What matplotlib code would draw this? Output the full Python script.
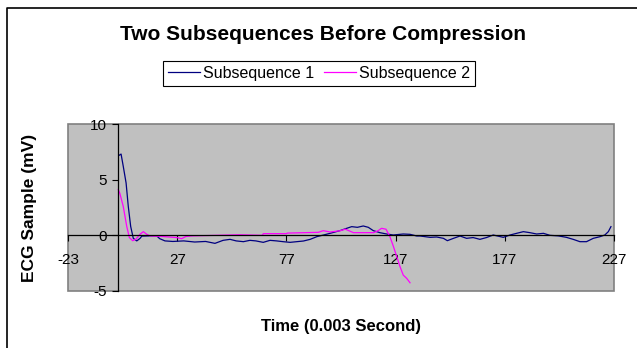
import numpy as np
import matplotlib.pyplot as plt
from matplotlib.patches import Rectangle
from matplotlib.lines import Line2D

# values (time index, mV)
t1 = [0.5, 1.3, 2.3, 3.6, 4.6, 5.7, 6.9, 8.5, 10, 10.8, 14, 17.6, 19, 21.4, 25, 30, 35, 40,
      44.3, 48, 51.2, 54, 57.3, 60.3, 63, 66.4, 69.5, 72.5, 75.5, 78.7, 81.7, 84.8, 87.9,
      90.9, 94, 97, 101.5, 104.6, 106.9, 109.5, 112.2, 114.5, 116.8, 119.8, 122.9, 126,
      130.5, 133.6, 136.7, 138.2, 142.8, 145.8, 148.9, 150.7, 153.5, 156.5, 159.5, 162.5,
      165.6, 168.6, 171.7, 176.3, 179.4, 182.4, 185.5, 188.5, 191.6, 194.7, 197.7, 201.5,
      205.2, 208.3, 211.4, 214.4, 217.5, 220.6, 222.8, 224.4, 225.6]
v1 = [7.2, 7.3, 6.2, 4.7, 2.6, 0.8, -0.27, -0.5, -0.27, -0.07, -0.05, -0.05, -0.3, -0.5,
      -0.55, -0.5, -0.6, -0.55, -0.72, -0.45, -0.36, -0.5, -0.57, -0.45, -0.5, -0.63, -0.45,
      -0.5, -0.57, -0.63, -0.57, -0.51, -0.36, -0.12, 0.03, 0.18, 0.42, 0.63, 0.78, 0.72,
      0.84, 0.72, 0.42, 0.24, 0.12, 0.03, 0.12, 0.09, -0.06, -0.06, -0.18, -0.15, -0.27,
      -0.48, -0.27, -0.06, -0.27, -0.2, -0.36, -0.2, 0.03, -0.18, 0.03, 0.18, 0.33, 0.24,
      0.12, 0.18, 0.0, -0.05, -0.18, -0.36, -0.57, -0.57, -0.27, -0.12, 0.03, 0.33, 0.78]

t2 = [0, 0.7, 2.3, 3.9, 5.1, 6.6, 8.1, 10, 11.5, 13, 14.5, 20, 26.8, 29, 31, 34, 45, 55.5,
      66, 66.4, 77, 77.4, 91.6, 93.9, 97, 101.5, 104, 107.7, 112, 117, 119, 120.6, 122.6,
      124.4, 126, 127.5, 129, 130.5, 132.1, 133.6]
v2 = [4.1, 3.8, 2.6, 0.8, -0.2, -0.48, -0.35, 0.1, 0.33, 0.1, -0.05, -0.1, -0.2, -0.3, -0.1,
      -0.05, 0.0, 0.05, 0.0, 0.15, 0.15, 0.2, 0.27, 0.42, 0.3, 0.41, 0.55, 0.24, 0.24, 0.24,
      0.42, 0.63, 0.55, -0.12, -1.0, -1.9, -2.8, -3.57, -3.87, -4.26]

xticks = [-23, 27, 77, 127, 177, 227]
yticks = [-5, 0, 5, 10]

plt.rcParams["font.family"] = ["Liberation Sans", "DejaVu Sans"]
plt.rcParams["axes.unicode_minus"] = False

W, H = 637, 348
fig = plt.figure(figsize=(W / 100, H / 100), dpi=100)

# outer chart frame (only top and left edges visible in the crop)
fig.add_artist(Line2D([7 / W, 7 / W, 1], [0, 1 - 7.5 / H, 1 - 7.5 / H], color="black", lw=1.2))

ax = fig.add_axes([68 / W, 1 - 291 / H, (614 - 68) / W, (291 - 124) / H])
ax.set_facecolor("#c0c0c0")

ax.plot(t1, v1, color="#000080", lw=0.9, label="Subsequence 1")
ax.plot(t2, v2, color="#ff00ff", lw=0.9, label="Subsequence 2")

ax.set_xlim(-23, 227)
ax.set_ylim(-5, 10)
ax.set_xticks(xticks)
ax.set_yticks(yticks)

for s in ["top", "right"]:
    ax.spines[s].set_visible(False)
ax.spines["left"].set_position(("data", 0))
ax.spines["bottom"].set_position(("data", 0))
ax.spines["left"].set_linewidth(0.9)
ax.spines["bottom"].set_linewidth(0.9)
ax.add_patch(Rectangle((0, 0), 1, 1, transform=ax.transAxes, fill=False,
                       edgecolor="#808080", lw=1.2, clip_on=False, zorder=0.5))

ax.tick_params(axis="x", direction="out", length=4, width=0.8, pad=9, labelsize=11)
ax.tick_params(axis="y", direction="out", length=4, width=0.8, pad=4, labelsize=11)

ax.set_xlabel("Time (0.003 Second)", fontsize=12, fontweight="bold")
ax.xaxis.set_label_coords(0.5, -0.17)
ax.set_ylabel("ECG Sample (mV)", fontsize=12.5, fontweight="bold")
ax.yaxis.set_label_coords(-0.057, 0.5)

fig.text(323 / W, 1 - 35 / H, "Two Subsequences Before Compression", ha="center", va="center",
         fontsize=15, fontweight="bold")

leg = fig.legend(loc="center", bbox_to_anchor=(319 / W, 1 - 73.5 / H), ncol=2, fontsize=11.5,
                 frameon=True, fancybox=False, edgecolor="black", framealpha=1,
                 handlelength=2.0, handletextpad=0.2, columnspacing=0.6, borderpad=0.3)
leg.get_frame().set_linewidth(0.8)

fig.savefig("out.png", dpi=100)
